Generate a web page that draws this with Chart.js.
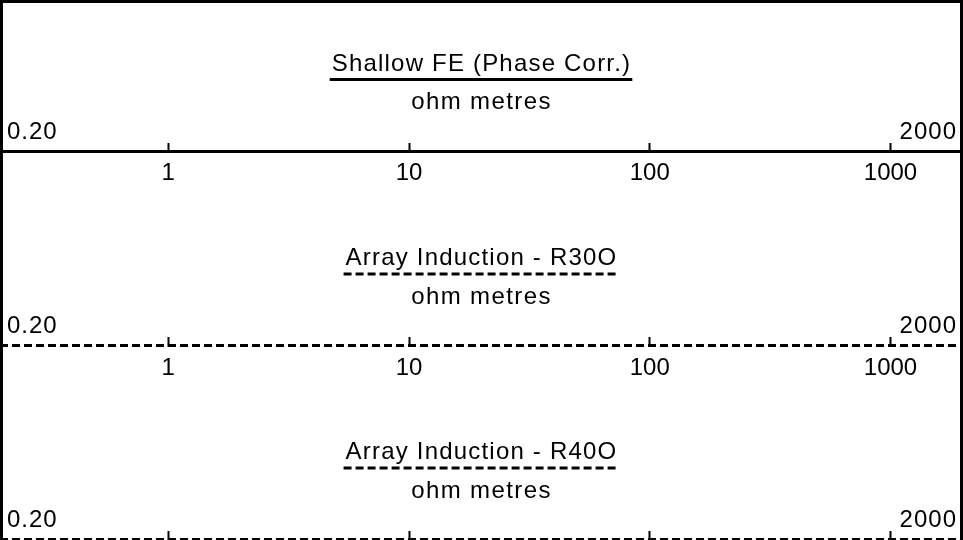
<!DOCTYPE html>
<html>
<head>
<meta charset="utf-8">
<script src="https://cdn.jsdelivr.net/npm/chart.js@4.4.1/dist/chart.umd.min.js"></script>
<style>
  html, body { margin: 0; padding: 0; background: #fff; }
  #wrap { width: 963px; height: 540px; }
</style>
</head>
<body>
<div id="wrap"><canvas id="header" width="963" height="540"></canvas></div>
<script>
var trackTitles = ['Shallow FE (Phase Corr.)', 'Array Induction - R30O', 'Array Induction - R40O'];
var trackUnits = ['ohm metres', 'ohm metres', 'ohm metres'];
var scaleMin = 0.2, scaleMax = 2000;
var rangeLabels = ['0.20', '2000'];
var tickValues = [1, 10, 100, 1000];

// layout: pixel row of each track's scale line, and its line style
var lineRows = [151, 345.5, 539.5];
var lineDash = [[], [8, 4], [8, 4]];
var FONT = "'Liberation Sans', Arial, sans-serif";

var scales = {
  y: { type: 'linear', display: false, min: 0, max: 540, reverse: true, bounds: 'data' }
};
lineRows.forEach(function(row, i) {
  scales['x' + i] = {
    type: 'logarithmic',
    axis: 'x',
    min: scaleMin,
    max: scaleMax,
    bounds: 'data',
    position: { y: row },
    afterBuildTicks: function(s) {
      s.ticks = tickValues.map(function(v) { return { value: v }; });
    },
    grid: { drawOnChartArea: false, drawTicks: true, tickLength: -10, tickWidth: 2, tickColor: '#000' },
    // border kept for tick geometry, the (dashed) line itself is stroked below
    border: { display: true, width: 3, color: 'rgba(0,0,0,0)' },
    ticks: {
      color: '#000',
      font: { family: FONT, size: 24 },
      padding: 18,
      maxRotation: 0,
      autoSkip: false,
      callback: function(v) { return String(v); }
    }
  };
});

// scale lines, titles, units, legend line under the title, end-of-range labels, frame
var headerText = {
  id: 'headerText',
  afterDraw: function(chart) {
    var ctx = chart.ctx;
    var yScale = chart.scales.y;
    ctx.save();
    ctx.fillStyle = '#000';
    ctx.strokeStyle = '#000';
    ctx.font = '24px ' + FONT;
    lineRows.forEach(function(row, i) {
      var s = chart.scales['x' + i];
      var y = yScale.getPixelForValue(row);
      var ly = Math.round(y - 1.5) + 1.5;
      var mid = (s.left + s.right) / 2;

      ctx.lineWidth = 3;
      ctx.setLineDash(lineDash[i]);
      ctx.beginPath();
      ctx.moveTo(s.getPixelForValue(scaleMin), ly);
      ctx.lineTo(s.getPixelForValue(scaleMax), ly);
      ctx.stroke();

      ctx.textBaseline = 'alphabetic';
      ctx.letterSpacing = '1px';
      ctx.textAlign = 'left';
      ctx.fillText(rangeLabels[0], s.getPixelForValue(scaleMin) + 7, y - 12.5);
      ctx.textAlign = 'right';
      ctx.fillText(rangeLabels[1], s.getPixelForValue(scaleMax) - 6, y - 12.5);

      ctx.textAlign = 'center';
      ctx.letterSpacing = '1.4px';
      ctx.fillText(trackUnits[i], mid, y - 42);
      ctx.letterSpacing = '1.2px';
      ctx.fillText(trackTitles[i], mid, y - 80.5);
      var w = ctx.measureText(trackTitles[i]).width;
      ctx.beginPath();
      ctx.moveTo(mid - w / 2 - 2, y - 71.5);
      ctx.lineTo(mid + w / 2 + 1, y - 71.5);
      ctx.stroke();
    });
    ctx.setLineDash([]);
    ctx.lineWidth = 3;
    ctx.beginPath();
    ctx.moveTo(1.5, chart.height);
    ctx.lineTo(1.5, 1.5);
    ctx.lineTo(chart.width - 1.5, 1.5);
    ctx.lineTo(chart.width - 1.5, chart.height);
    ctx.stroke();
    ctx.restore();
  }
};

new Chart(document.getElementById('header'), {
  type: 'line',
  data: { datasets: [] },
  options: {
    responsive: false,
    animation: false,
    events: [],
    layout: { padding: { left: -1, right: 0, top: 0, bottom: 0 } },
    plugins: { legend: { display: false }, tooltip: { enabled: false } },
    scales: scales
  },
  plugins: [headerText]
});
</script>
</body>
</html>
